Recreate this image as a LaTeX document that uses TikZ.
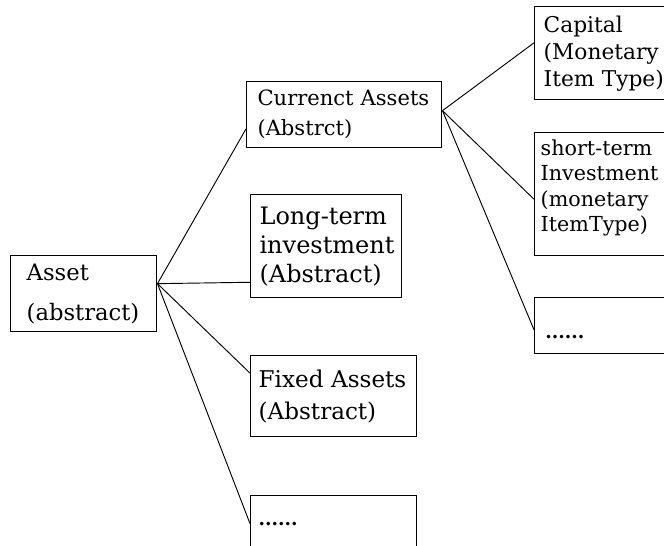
\documentclass[tikz,border=0pt]{standalone}
\usepackage{fontspec}
\setmainfont{DejaVu Serif}
\usetikzlibrary{calc}

\begin{document}
\begin{tikzpicture}[
        x=0.75pt, y=-0.75pt,
        box/.style={draw, line width=1.1pt, anchor=north west, align=left, inner ysep=2pt},
        link/.style={line width=0.7pt}
    ]
        \clip (0,0) rectangle (664,546);

        % Root
        \node[box, minimum width=109.5pt, minimum height=57pt, inner xsep=12pt, text width=85.5pt,
              font=\fontsize{17}{30}\selectfont] (asset) at (10,255) {Asset\\(abstract)};

        % Second level
        \node[box, minimum width=146.25pt, minimum height=49.5pt, inner xsep=8pt, text width=130pt,
              font=\fontsize{15.8}{22.5}\selectfont] (curr) at (246,81) {Currenct Assets\\(Abstrct)};
        \node[box, minimum width=113.25pt, minimum height=77.25pt, inner xsep=6.5pt, text width=100pt,
              font=\fontsize{18}{21.75}\selectfont] (longterm) at (250,194) {Long-term\\investment\\(Abstract)};
        \node[box, minimum width=124.5pt, minimum height=60.75pt, inner xsep=6pt, text width=112.5pt,
              font=\fontsize{17.3}{24}\selectfont] (fixed) at (250,355) {Fixed Assets\\(Abstract)};
        \node[box, minimum width=124.5pt, minimum height=52.5pt, inner xsep=6pt, text width=112.5pt,
              text height=0pt, text depth=7.5pt, font=\bfseries\fontsize{14}{16}\selectfont] (more) at (250,495) {......};

        % Third level
        \node[box, minimum width=109.5pt, minimum height=69.75pt, inner xsep=6.75pt, text width=96pt,
              font=\fontsize{16.3}{20.25}\selectfont] (capital) at (534,6) {Capital\\(Monetary\\Item Type)};
        \node[box, minimum width=109.5pt, minimum height=92.25pt, inner xsep=4.5pt, text width=100.5pt,
              font=\fontsize{15.5}{19}\selectfont] (shortterm) at (534,132) {short-term\\Investment\\(monetary\\ItemType)\\[-6pt]\mbox{}};
        \node[box, minimum width=109.5pt, minimum height=42pt, inner xsep=8pt, text width=93.5pt,
              text height=19.5pt, text depth=0pt, font=\bfseries\fontsize{14}{16}\selectfont] (more2) at (534,297) {......};

        % Links
        \draw[link] ($(asset.south east)!0.63!(asset.north east)$) -- ($(curr.south west)!0.29!(curr.north west)$);
        \draw[link] ($(asset.south east)!0.63!(asset.north east)$) -- ($(longterm.south west)!0.155!(longterm.north west)$);
        \draw[link] ($(asset.south east)!0.63!(asset.north east)$) -- ($(fixed.south west)!0.78!(fixed.north west)$);
        \draw[link] ($(asset.south east)!0.63!(asset.north east)$) -- ($(more.south west)!0.6!(more.north west)$);

        \draw[link] ($(curr.south east)!0.56!(curr.north east)$) -- ($(capital.south west)!0.61!(capital.north west)$);
        \draw[link] ($(curr.south east)!0.56!(curr.north east)$) -- ($(shortterm.south west)!0.46!(shortterm.north west)$);
        \draw[link] ($(curr.south east)!0.56!(curr.north east)$) -- ($(more2.south west)!0.43!(more2.north west)$);
    \end{tikzpicture}
\end{document}
